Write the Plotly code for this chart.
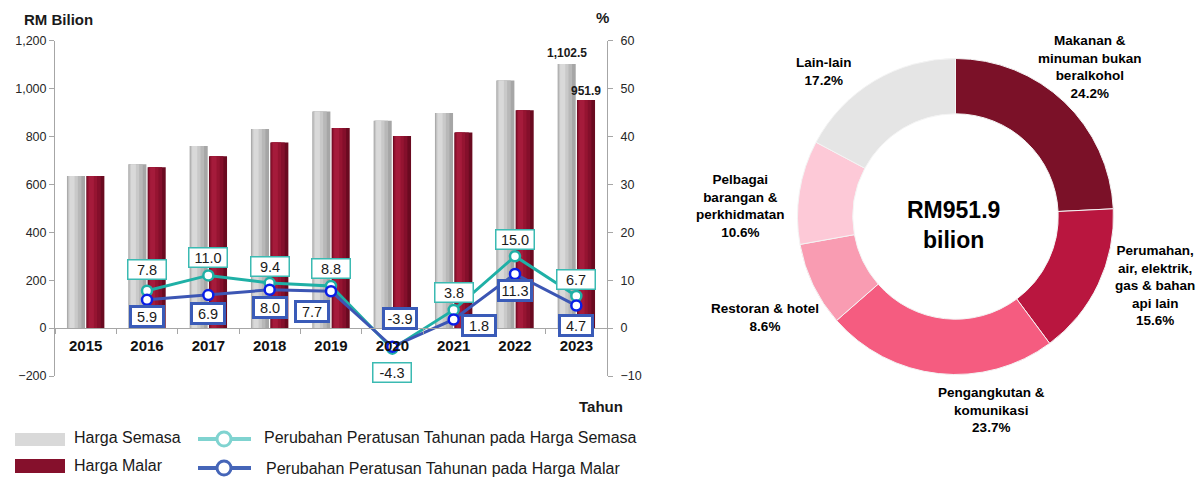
import plotly.graph_objects as go

# ---------------- data ----------------
years = ['2015', '2016', '2017', '2018', '2019', '2020', '2021', '2022', '2023']
harga_semasa = [635.1, 684.6, 759.9, 831.3, 904.5, 865.6, 898.5, 1033.3, 1102.5]
harga_malar = [635.1, 671.5, 717.9, 775.3, 835.0, 802.4, 816.9, 909.2, 951.9]
pct_semasa = [None, 7.8, 11.0, 9.4, 8.8, -4.3, 3.8, 15.0, 6.7]
pct_malar = [None, 5.9, 6.9, 8.0, 7.7, -3.9, 1.8, 11.3, 4.7]

pie_names = ['Makanan &<br>minuman bukan<br>beralkohol',
             'Perumahan,<br>air, elektrik,<br>gas & bahan<br>api lain',
             'Pengangkutan &<br>komunikasi',
             'Restoran & hotel',
             'Pelbagai<br>barangan &<br>perkhidmatan',
             'Lain-lain']
pie_values = [24.2, 15.6, 23.7, 8.6, 10.6, 17.2]
pie_total = 951.9

# ---------------- style / layout helpers ----------------
W, H = 1204, 477
FONT = 'Liberation Sans, Arial, sans-serif'
AX = '#a6a6a6'


def px(x):
    return x / W


def py(y):
    return 1 - y / H


X0, X1 = 55, 607
YT, YB = 40.7, 376
YR = [-200, 1200]
Y2R = [-10, 60]
NCAT = len(years)


def cat_x(i):
    """paper x of category centre i (same mapping as the category axis)."""
    return px(X0 + (i + 0.5) * (X1 - X0) / NCAT)


def val_y(v, rng):
    """paper y of value v on an axis spanning rng over the plot domain."""
    return py(YB - (v - rng[0]) / (rng[1] - rng[0]) * (YB - YT))


fig = go.Figure()

# bars with cylinder-like shading (layers of the same values)
bar_w = 0.295
layers_grey = [(0.0, 1.0, '#a6a6a6'), (0.04, 0.76, '#b8b8b8'), (0.08, 0.52, '#c9c9c9'),
               (0.14, 0.28, '#d9d9d9')]
layers_red = [(0.0, 1.0, '#6a0a20'), (0.04, 0.76, '#840f2b'), (0.08, 0.52, '#951431'),
              (0.14, 0.28, '#a51b3b')]
for vals, base_off, layers in [(harga_semasa, -0.305, layers_grey),
                               (harga_malar, 0.010, layers_red)]:
    for start, frac, col in layers:
        fig.add_trace(go.Bar(x=years, y=vals, offset=base_off + start * bar_w,
                             width=bar_w * frac, marker=dict(color=col, line=dict(width=0)),
                             showlegend=False, hoverinfo='skip'))

TEAL = '#1fb0a6'
BLUE_LINE = '#3c56b4'
BLUE_MK = '#0a1ee6'
fig.add_trace(go.Scatter(x=years, y=pct_semasa, yaxis='y2', mode='lines+markers',
                         line=dict(color=TEAL, width=3),
                         marker=dict(size=10, color='white', line=dict(color=TEAL, width=2.5)),
                         showlegend=False))
fig.add_trace(go.Scatter(x=years, y=pct_malar, yaxis='y2', mode='lines+markers',
                         line=dict(color=BLUE_LINE, width=3),
                         marker=dict(size=10, color='white', line=dict(color=BLUE_MK, width=2.5)),
                         showlegend=False))

# donut
pie_colors = ['#7b1128', '#b9163f', '#f55c80', '#f99cb2', '#fdc9d7', '#e5e5e5']
cx, cy, R = 955.5, 216.5, 158
fig.add_trace(go.Pie(values=pie_values, labels=[n.replace('<br>', ' ') for n in pie_names],
                     hole=0.65, sort=False, direction='clockwise', rotation=0,
                     marker=dict(colors=pie_colors, line=dict(color='#f4f4f4', width=1)),
                     textinfo='none', showlegend=False,
                     domain=dict(x=[px(cx - R), px(cx + R)], y=[py(cy + R), py(cy - R)])))

ann = []
# percentage boxes
semasa_shift = [None, (0, 21), (0, 18), (0, 17), (0, 17), (0, -24), (0, 17), (0, 17), (0, 17)]
malar_shift = [None, (0, -17), (0, -18), (0, -18), (-19, -20), (8, 28), (25, -6), (0, -17), (0, -20)]
for i, (v, s) in enumerate(zip(pct_semasa, semasa_shift)):
    if v is None:
        continue
    ann.append(dict(x=cat_x(i), y=val_y(v, Y2R), xref='paper', yref='paper', text=f'{v:.1f}',
                    showarrow=False, xanchor='center', yanchor='middle',
                    xshift=s[0], yshift=s[1], width=35, height=16, borderpad=1,
                    bordercolor='#3bbab2', borderwidth=1.5, bgcolor='white',
                    font=dict(family=FONT, size=14.5, color='#1a1a1a')))
for i, (v, s) in enumerate(zip(pct_malar, malar_shift)):
    if v is None:
        continue
    ann.append(dict(x=cat_x(i), y=val_y(v, Y2R), xref='paper', yref='paper', text=f'{v:.1f}',
                    showarrow=False, xanchor='center', yanchor='middle',
                    xshift=s[0], yshift=s[1], width=28, height=15, borderpad=1,
                    bordercolor='#3a5bb8', borderwidth=3, bgcolor='white',
                    font=dict(family=FONT, size=14.5, color='#1a1a1a')))

# value labels on 2023 bars
last = NCAT - 1
ann.append(dict(x=cat_x(last), y=val_y(harga_semasa[-1], YR), xref='paper', yref='paper',
                text=f'{harga_semasa[-1]:,.1f}', showarrow=False, xanchor='center', yanchor='middle',
                xshift=-9.5, yshift=11,
                font=dict(family=FONT, size=12, color='#1a1a1a', weight='bold')))
ann.append(dict(x=cat_x(last), y=val_y(harga_malar[-1], YR), xref='paper', yref='paper',
                text=f'{harga_malar[-1]:,.1f}', showarrow=False, xanchor='center', yanchor='middle',
                xshift=9.5, yshift=9,
                font=dict(family=FONT, size=12, color='#1a1a1a', weight='bold')))

# axis titles
ann.append(dict(x=px(22), y=py(19), xref='paper', yref='paper', text='RM Bilion', showarrow=False,
                xanchor='left', yanchor='middle', font=dict(family=FONT, size=15, color='#1a1a1a', weight='bold')))
ann.append(dict(x=px(602), y=py(18), xref='paper', yref='paper', text='%', showarrow=False,
                xanchor='center', yanchor='middle', font=dict(family=FONT, size=15, color='#1a1a1a', weight='bold')))
ann.append(dict(x=px(577), y=py(406), xref='paper', yref='paper', text='Tahun', showarrow=False,
                xanchor='left', yanchor='middle', font=dict(family=FONT, size=15, color='#1a1a1a', weight='bold')))

# pie labels
pie_label_pos = [(1090, 67.5), (1155, 285), (991, 410), (765, 317.5), (740, 205.5), (824, 71.5)]
for name, v, (lx, ly) in zip(pie_names, pie_values, pie_label_pos):
    ann.append(dict(x=px(lx), y=py(ly), xref='paper', yref='paper', text=f'{name}<br>{v:.1f}%',
                    showarrow=False, xanchor='center', yanchor='middle', align='center',
                    font=dict(family=FONT, size=13.5, color='#000000', weight='bold')))
ann.append(dict(x=px(953), y=py(225), xref='paper', yref='paper',
                text=f'RM{pie_total:.1f}<br>bilion', showarrow=False, xanchor='center', yanchor='middle',
                font=dict(family=FONT, size=23, color='#000000', weight='bold')))

# legend (manual)
shapes = []
shapes.append(dict(type='rect', xref='paper', yref='paper', x0=px(15), x1=px(65), y0=py(446), y1=py(433),
                   fillcolor='#d9d9d9', line=dict(width=0)))
shapes.append(dict(type='rect', xref='paper', yref='paper', x0=px(15), x1=px(65), y0=py(473), y1=py(459),
                   fillcolor='#85102c', line=dict(width=0)))
for yy, col in [(439, '#7fd3d0'), (468, '#4565b8')]:
    shapes.append(dict(type='line', xref='paper', yref='paper', x0=px(198), x1=px(251), y0=py(yy), y1=py(yy),
                       line=dict(color=col, width=4)))
    shapes.append(dict(type='circle', xref='paper', yref='paper', x0=px(224 - 7), x1=px(224 + 7),
                       y0=py(yy + 7), y1=py(yy - 7), fillcolor='white', line=dict(color=col, width=3)))
leg_texts = [(72, 437, 'Harga Semasa'), (72, 465, 'Harga Malar'),
             (262, 437, 'Perubahan Peratusan Tahunan pada Harga Semasa'),
             (264, 468, 'Perubahan Peratusan Tahunan pada Harga Malar')]
for lx, ly, t in leg_texts:
    ann.append(dict(x=px(lx), y=py(ly), xref='paper', yref='paper', text=t, showarrow=False,
                    xanchor='left', yanchor='middle', font=dict(family=FONT, size=16, color='#1a1a1a')))

ydom = [py(YB), py(YT)]
zero_pos = ydom[0] + (0 - YR[0]) / (YR[1] - YR[0]) * (ydom[1] - ydom[0])

fig.update_layout(
    template='none', width=W, height=H, autosize=False,
    margin=dict(l=0, r=0, t=0, b=0),
    paper_bgcolor='white', plot_bgcolor='rgba(0,0,0,0)',
    barmode='overlay', showlegend=False,
    font=dict(family=FONT),
    xaxis=dict(domain=[px(X0), px(X1)], anchor='free', position=zero_pos, type='category',
               range=[-0.5, NCAT - 0.5], tickson='boundaries', ticks='outside', ticklen=5, tickcolor=AX,
               showline=True, linecolor=AX, linewidth=1, showgrid=False, zeroline=False,
               automargin=False, ticklabelstandoff=4,
               tickfont=dict(family=FONT, size=15, color='#111111', weight='bold')),
    yaxis=dict(domain=ydom, range=YR, dtick=200, tickformat=',', ticks='outside', ticklen=5,
               tickcolor=AX, showline=True, linecolor=AX, showgrid=False, zeroline=False,
               automargin=False, tickfont=dict(family=FONT, size=12.5, color='#262626')),
    yaxis2=dict(overlaying='y', side='right', anchor='x', range=Y2R, dtick=10, ticks='outside',
                ticklen=5, tickcolor=AX, showline=True, linecolor=AX, showgrid=False, zeroline=False,
                automargin=False, ticklabelstandoff=5,
                tickfont=dict(family=FONT, size=12.5, color='#262626')),
    annotations=ann, shapes=shapes,
)

fig.write_html('out.html', config={'displayModeBar': False},
               post_script="document.body.style.margin='0';")
